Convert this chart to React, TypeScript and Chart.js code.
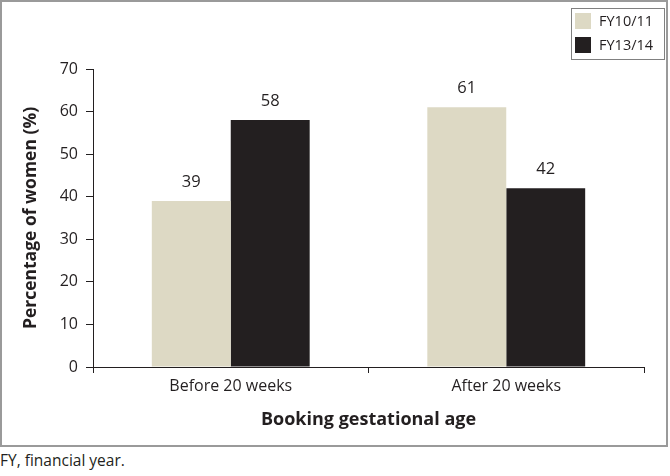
import React, { useEffect, useRef } from "react";
import { Chart, registerables } from "chart.js";

Chart.register(...registerables);

const categories = ["Before 20 weeks", "After 20 weeks"];
const seriesNames = ["FY10/11", "FY13/14"];
const fy1011 = [39, 61];
const fy1314 = [58, 42];
const seriesColors = ["#DDD9C4", "#231F20"];
const yTitle = "Percentage of women (%)";
const xTitle = "Booking gestational age";
const footnote = "FY, financial year.";

const FONT = "'Open Sans', 'Liberation Sans', sans-serif";
const INK = "#231F20";

const valueLabels = {
  id: "valueLabels",
  afterDatasetsDraw(chart: any) {
    const ctx = chart.ctx;
    ctx.save();
    ctx.font = `16.5px ${FONT}`;
    ctx.fillStyle = INK;
    ctx.textAlign = "center";
    ctx.textBaseline = "middle";
    chart.data.datasets.forEach((ds: any, i: number) => {
      const meta = chart.getDatasetMeta(i);
      meta.data.forEach((bar: any, j: number) => {
        ctx.fillText(String(ds.data[j]), bar.x, bar.y - 19);
      });
    });
    ctx.restore();
  },
};

const boxLegend = {
  id: "boxLegend",
  afterDraw(chart: any) {
    const ctx = chart.ctx;
    const bx = 571, by = 8, bw = 93, bh = 51;
    ctx.save();
    ctx.fillStyle = "#ffffff";
    ctx.fillRect(bx, by, bw, bh);
    ctx.strokeStyle = "#808080";
    ctx.lineWidth = 1;
    ctx.strokeRect(bx + 0.5, by + 0.5, bw, bh);
    ctx.font = `14.5px ${FONT}`;
    ctx.textAlign = "left";
    ctx.textBaseline = "middle";
    chart.data.datasets.forEach((ds: any, i: number) => {
      const y = by + 5 + i * 24;
      ctx.fillStyle = ds.backgroundColor;
      ctx.fillRect(bx + 4, y, 16, 16);
      ctx.fillStyle = INK;
      ctx.fillText(ds.label, bx + 28, y + 8.5);
    });
    ctx.restore();
  },
};

export default function App() {
  const ref = useRef<HTMLCanvasElement>(null);
  useEffect(() => {
    document.body.style.margin = "0";
    const chart = new Chart(ref.current!, {
      type: "bar",
      data: {
        labels: categories,
        datasets: [
          { label: seriesNames[0], data: fy1011, backgroundColor: seriesColors[0] },
          { label: seriesNames[1], data: fy1314, backgroundColor: seriesColors[1] },
        ],
      },
      options: {
        responsive: false,
        animation: false,
        layout: { padding: { top: 69, right: 26, bottom: 0, left: 0 } },
        datasets: {
          bar: { categoryPercentage: 0.573, barPercentage: 1.0 },
        } as any,
        plugins: {
          legend: { display: false },
          tooltip: { enabled: false },
        },
        scales: {
          x: {
            afterFit(s: any) { s.height = 80; },
            grid: { drawOnChartArea: false, drawTicks: true, tickLength: 6, color: INK, lineWidth: 1 },
            border: { display: true, color: INK, width: 1 },
            ticks: { color: INK, font: { family: FONT, size: 16 }, padding: 4 },
            title: {
              display: true,
              text: xTitle,
              color: INK,
              font: { family: FONT, size: 18, weight: "bold" },
              padding: { top: 0, bottom: 16 },
            },
          },
          y: {
            min: 0,
            max: 70,
            afterFit(s: any) { s.width = 93; },
            grid: { drawOnChartArea: false, drawTicks: true, tickLength: 7, color: INK, lineWidth: 1 },
            border: { display: true, color: INK, width: 1 },
            ticks: { stepSize: 10, color: INK, font: { family: FONT, size: 16 }, padding: 8 },
            title: {
              display: true,
              text: yTitle,
              color: INK,
              font: { family: FONT, size: 17.5, weight: "bold" },
              padding: { top: 21, bottom: 0 },
            },
          },
        },
      },
      plugins: [valueLabels, boxLegend],
    });
    return () => chart.destroy();
  }, []);

  return (
    <div style={{ position: "relative", width: 670, height: 476, background: "#fff" }}>
      <canvas ref={ref} width={670} height={447} style={{ position: "absolute", left: 0, top: 0 }} />
      <div
        style={{
          position: "absolute",
          left: 0,
          top: 0,
          width: 668,
          height: 447,
          boxSizing: "border-box",
          border: "2px solid #9a9a9a",
          pointerEvents: "none",
        }}
      />
      <div
        style={{
          position: "absolute",
          left: 0,
          top: 450,
          fontFamily: FONT,
          fontSize: 15.5,
          color: INK,
          lineHeight: "20px",
        }}
      >
        {footnote}
      </div>
    </div>
  );
}
